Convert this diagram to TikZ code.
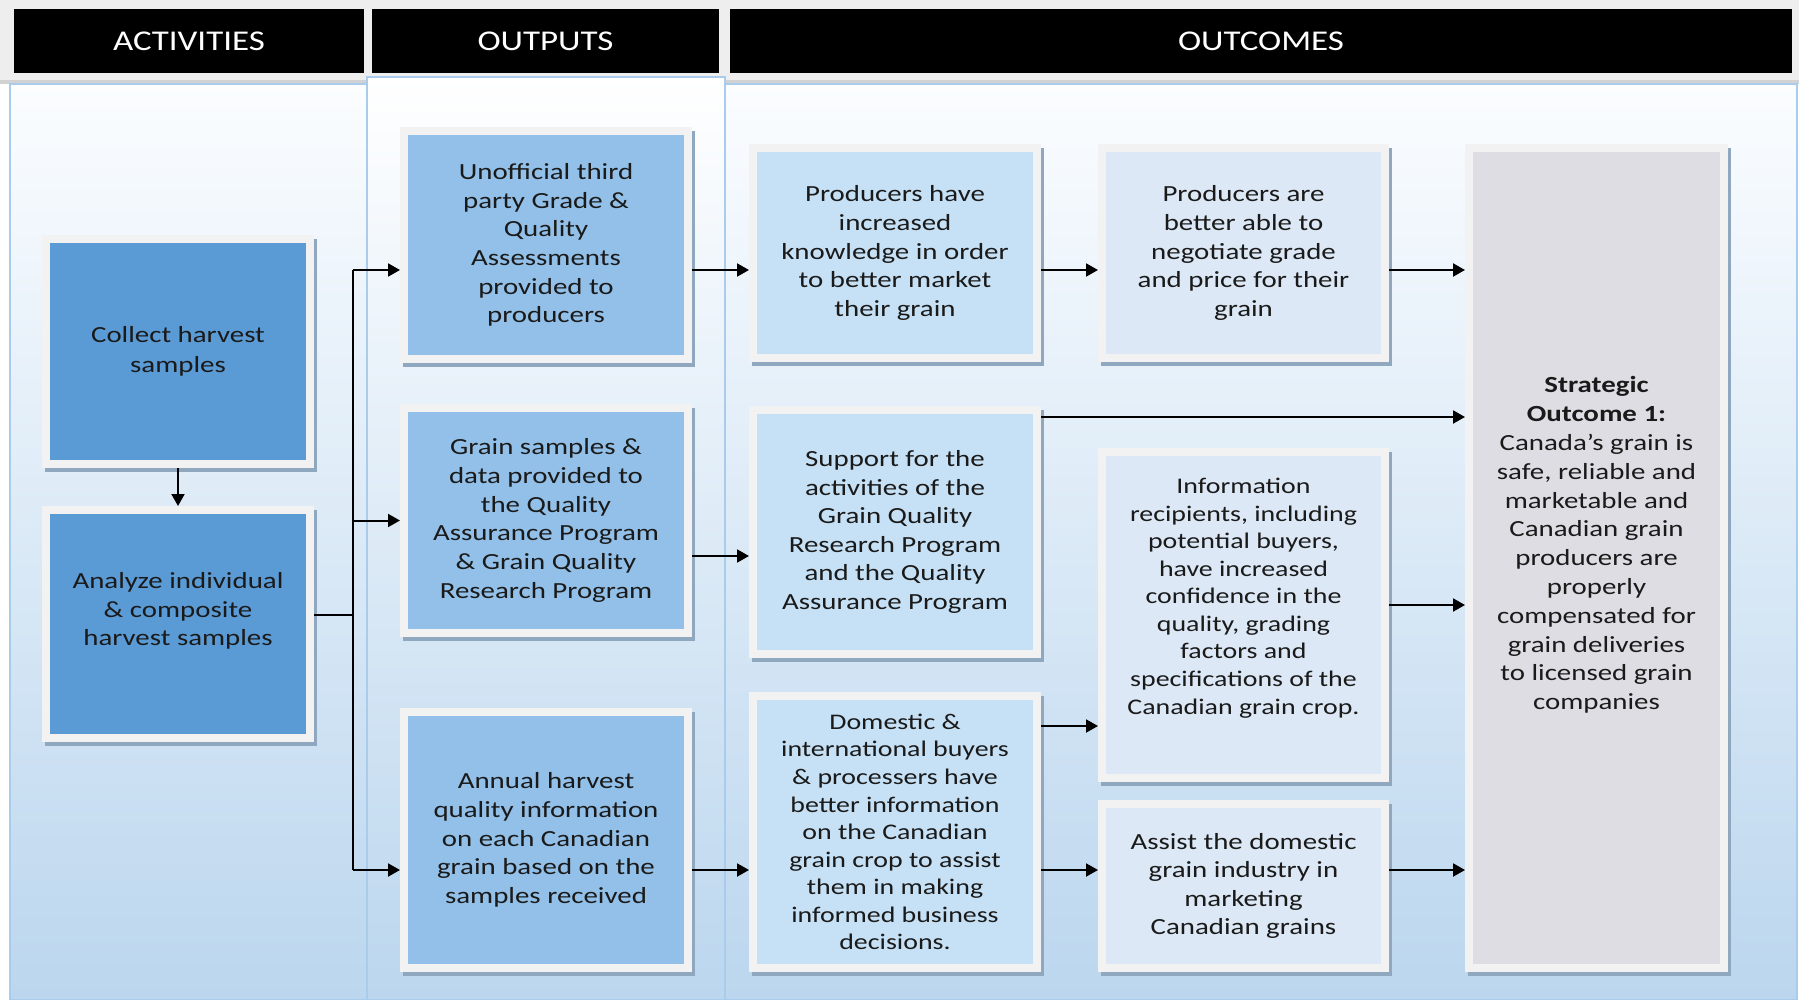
\documentclass[tikz,border=0pt]{standalone}
\usepackage{fontspec}
\setmainfont{Carlito}[FakeStretch=1.25]
\newfontfamily\headfont{Carlito}[FakeStretch=1.22]
\usetikzlibrary{arrows.meta}

\definecolor{actblue}{HTML}{5B9BD5}
\definecolor{outblue}{HTML}{92C0E8}
\definecolor{ocblue}{HTML}{C6E1F5}
\definecolor{ocpale}{HTML}{DCE8F5}
\definecolor{stratgray}{HTML}{DEDDE3}
\definecolor{framegray}{HTML}{F2F2F2}
\definecolor{shadowblue}{HTML}{8FA8C0}
\definecolor{bandgray}{HTML}{EEEEEE}
\definecolor{bandline}{HTML}{D2D2D2}
\definecolor{colline}{HTML}{A9CCEC}
\definecolor{bgtop}{HTML}{FBFDFF}
\definecolor{bgbot}{HTML}{BBD6EE}
\definecolor{ink}{HTML}{1A1A1A}

\def\u{0.02cm}

\tikzset{
  headbar/.style={fill=black, text=white, inner sep=0pt, minimum height=64*\u,
    font=\headfont\fontsize{16.3}{19}\selectfont},
  box/.style={draw=framegray, line width=8*\u, outer sep=4*\u, inner sep=0pt,
    align=center, text=ink, font=\fontsize{13.15}{16.3}\selectfont,
    preaction={draw=shadowblue, fill=shadowblue,
      transform canvas={xshift=3*\u, yshift=-4*\u}}},
  boxtext/.style={align=center, text=ink, inner sep=0pt},
  small/.style={font=\fontsize{12.7}{15.7}\selectfont},
  actbox/.style={box, fill=actblue, minimum width=264*\u},
  outbox/.style={box, fill=outblue, minimum width=284*\u},
  ocbox/.style={box, fill=ocblue, minimum width=284*\u},
  palebox/.style={box, fill=ocpale, minimum width=283*\u},
  ln/.style={line width=1.5*\u, black},
  arr/.style={line width=2*\u, black, -{Triangle[length=12*\u, width=13*\u]}},
}

\begin{document}
\begin{tikzpicture}[x=0.02cm, y=-0.02cm]
\useasboundingbox (0,0) rectangle (1799,1000);

% header band and column panels
\fill[bandgray] (0,0) rectangle (1799,82);
\fill[bandline] (0,80) rectangle (1799,84);
\shadedraw[top color=bgtop, bottom color=bgbot, draw=colline, line width=1.5*\u] (10,84) rectangle (367,1000);
\shadedraw[top color=white, bottom color=bgbot, draw=colline, line width=1.5*\u] (367,77) rectangle (725,1000);
\shadedraw[top color=bgtop, bottom color=bgbot, draw=colline, line width=1.5*\u] (725,84) rectangle (1797,1000);

\node[headbar, minimum width=350*\u] (acthead) at (189,41) {ACTIVITIES};
\node[headbar, minimum width=347*\u] (outhead) at (545.5,41) {OUTPUTS};
\node[headbar, minimum width=1062*\u] (ochead) at (1261,41) {OUTCOMES};

% activities
\node[actbox, minimum height=225*\u] (collect) at (178,351.5) {Collect harvest\\[1pt]samples};
\node[actbox, minimum height=228*\u] (analyze) at (178,624) {};
\node[boxtext, font=\fontsize{13.15}{16.3}\selectfont] (analyze-text) at (178,611)
  {Analyze individual\\\& composite\\harvest samples};

% outputs
\node[outbox, minimum height=228*\u] (unofficial) at (546,245)
  {Unofficial third\\party Grade \&\\Quality\\Assessments\\provided to\\producers};
\node[outbox, minimum height=225*\u] (grain) at (546,520.5)
  {Grain samples \&\\data provided to\\the Quality\\Assurance Program\\\& Grain Quality\\Research Program};
\node[outbox, minimum height=256*\u] (annual) at (546,840)
  {Annual harvest\\quality information\\on each Canadian\\grain based on the\\samples received};

% outcomes, first column
\node[ocbox, minimum height=210*\u] (prodhave) at (895,253)
  {Producers have\\increased\\knowledge in order\\to better market\\their grain};
\node[ocbox, minimum height=244*\u] (support) at (895,532)
  {Support for the\\activities of the\\Grain Quality\\Research Program\\and the Quality\\Assurance Program};
\node[ocbox, small, minimum height=272*\u] (domestic) at (895,832)
  {Domestic \&\\international buyers\\\& processers have\\better information\\on the Canadian\\grain crop to assist\\them in making\\informed business\\decisions.};

% outcomes, second column
\node[palebox, minimum height=210*\u] (prodare) at (1243.5,253)
  {Producers are\\better able to\\negotiate grade\\and price for their\\grain};
\node[palebox, minimum height=326*\u] (info) at (1243.5,615) {};
\node[boxtext, small] (info-text) at (1243.5,598)
  {Information\\recipients, including\\potential buyers,\\have increased\\confidence in the\\quality, grading\\factors and\\specifications of the\\Canadian grain crop.};
\node[palebox, minimum height=164*\u] (assist) at (1243.5,886)
  {Assist the domestic\\grain industry in\\marketing\\Canadian grains};

% strategic outcome
\node[box, fill=stratgray, minimum width=255*\u, minimum height=820*\u] (strategic) at (1596.5,558) {};
\node[boxtext, font=\fontsize{13.15}{16.4}\selectfont] (strategic-text) at (1596.5,545)
  {\textbf{Strategic}\\\textbf{Outcome 1:}\\Canada’s grain is\\safe, reliable and\\marketable and\\Canadian grain\\producers are\\properly\\compensated for\\grain deliveries\\to licensed grain\\companies};

% connectors
\coordinate (bustop) at (353,270);
\coordinate (busjoin) at (353,615);
\coordinate (busbot) at (353,870);
\coordinate (row1) at (0,270);
\coordinate (row2) at (0,417);
\coordinate (row3) at (0,556);
\coordinate (row4) at (0,605);
\coordinate (row45) at (0,726);
\coordinate (row5) at (0,870);

\draw[arr] (collect) -- (analyze);
\draw[ln] (analyze.east |- busjoin) -- (busjoin);
\draw[ln] (bustop) -- (busbot);
\draw[arr] (bustop) -- (unofficial.west |- bustop);
\draw[arr] (busjoin |- grain.west) -- (grain.west);
\draw[arr] (busbot) -- (annual.west |- busbot);

\draw[arr] (unofficial.east |- row1) -- (prodhave.west |- row1);
\draw[arr] (prodhave.east |- row1) -- (prodare.west |- row1);
\draw[arr] (prodare.east |- row1) -- (strategic.west |- row1);
\draw[arr] (support.east |- row2) -- (strategic.west |- row2);
\draw[arr] (grain.east |- row3) -- (support.west |- row3);
\draw[arr] (info.east |- row4) -- (strategic.west |- row4);
\draw[arr] (domestic.east |- row45) -- (info.west |- row45);
\draw[arr] (annual.east |- row5) -- (domestic.west |- row5);
\draw[arr] (domestic.east |- row5) -- (assist.west |- row5);
\draw[arr] (assist.east |- row5) -- (strategic.west |- row5);
\end{tikzpicture}
\end{document}
